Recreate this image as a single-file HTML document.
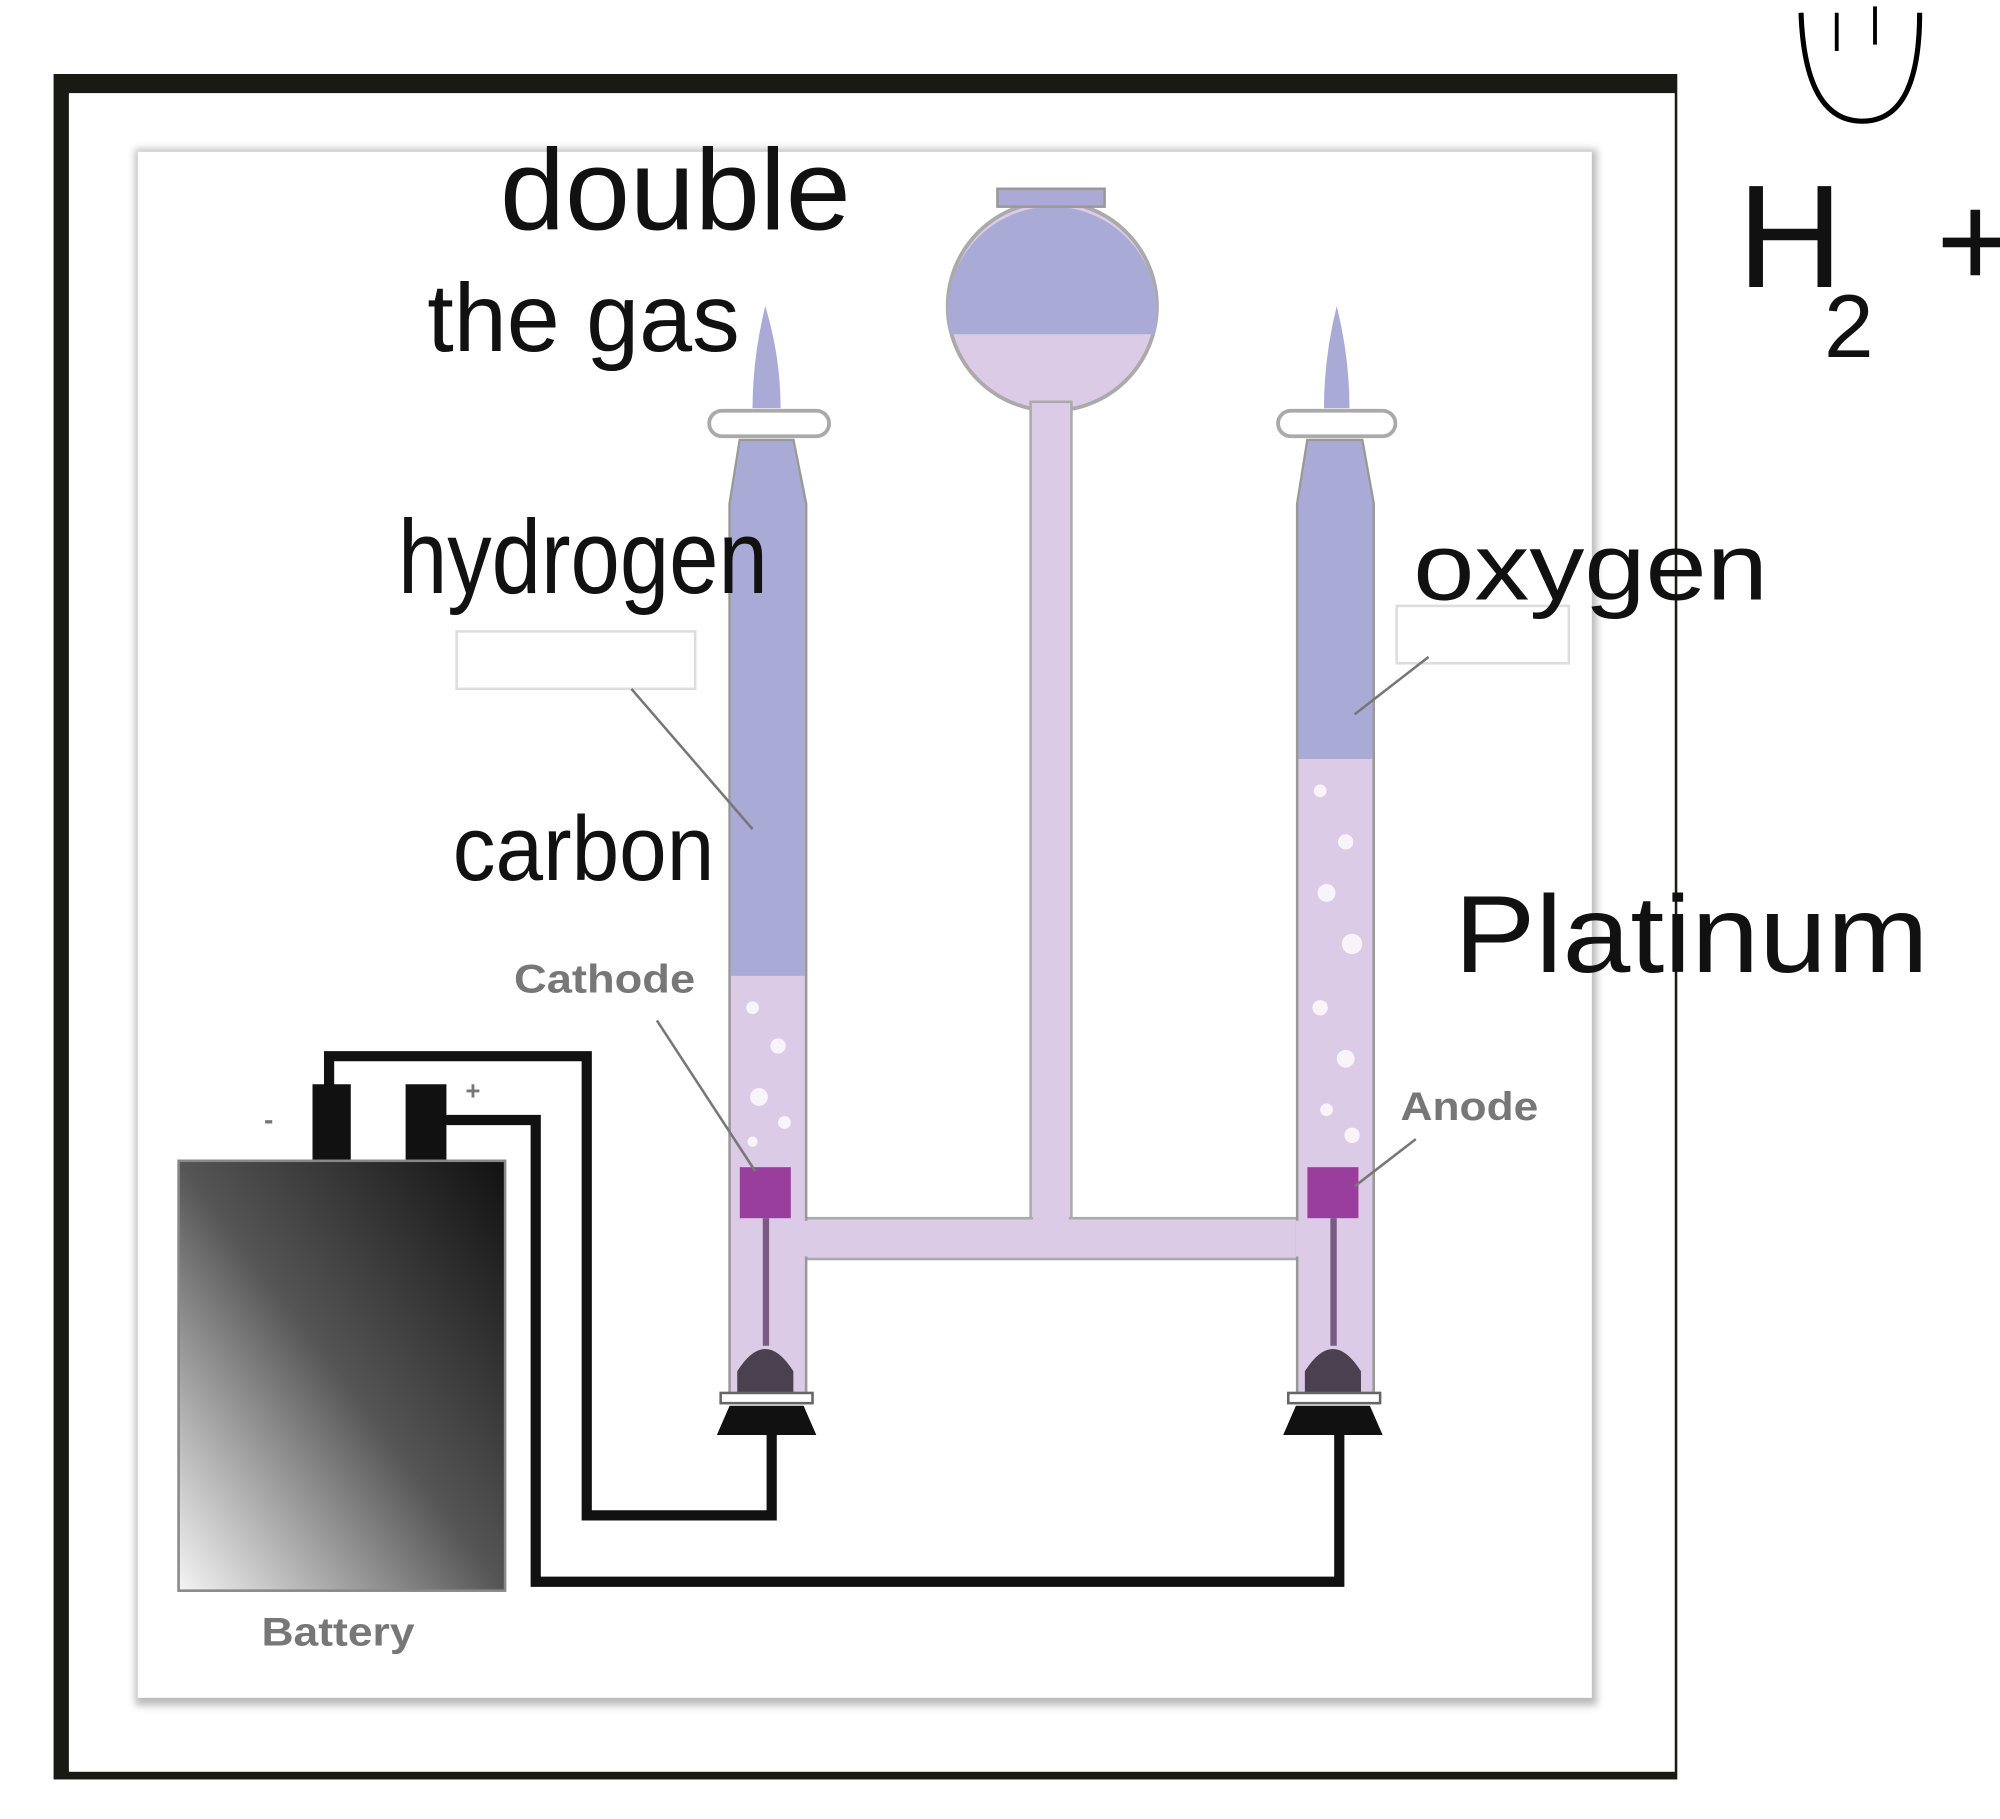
<!DOCTYPE html>
<html><head><meta charset="utf-8"><style>
html,body{margin:0;padding:0;background:#fff;}
svg{display:block;}
.hw{font-family:"Liberation Sans",sans-serif;fill:#111;font-weight:normal;}
.lb{font-family:"Liberation Sans",sans-serif;fill:#777;font-weight:bold;}
</style></head><body>
<svg width="2000" height="1819" viewBox="0 0 1568 1426" preserveAspectRatio="none" xmlns="http://www.w3.org/2000/svg">
<defs>
<linearGradient id="bat" x1="1" y1="0" x2="0" y2="1">
<stop offset="0" stop-color="#111"/><stop offset="0.5" stop-color="#555"/><stop offset="1" stop-color="#f4f4f4"/>
</linearGradient>
<filter id="sh"><feGaussianBlur stdDeviation="3"/></filter>
</defs>
<rect width="1568" height="1426" fill="#fff"/>
<rect x="42" y="58" width="1273" height="1337" fill="#1a1a14"/>
<rect x="54" y="73" width="1259" height="1316" fill="#fff"/>
<rect x="106" y="117" width="1146" height="1220" fill="#bbb" filter="url(#sh)"/>
<rect x="108" y="119" width="1140" height="1212" fill="#fff"/>
<rect x="358" y="495" width="187" height="45" fill="#fff" stroke="#ddd" stroke-width="2"/>
<rect x="1095" y="475" width="135" height="45" fill="#fff" stroke="#ddd" stroke-width="2"/>
<!-- bulb -->
<circle cx="825" cy="240" r="82" fill="#dccbe6" stroke="#aaa" stroke-width="3"/>
<path d="M745 262 A82 82 0 1 1 905 262 Z" fill="#a9abd6"/>
<rect x="782" y="148" width="84" height="14" fill="#a9abd6" stroke="#999" stroke-width="2"/>
<!-- stem -->
<rect x="808" y="315" width="32" height="655" fill="#dccbe6" stroke="#aaa" stroke-width="2"/>
<rect x="620" y="955" width="410" height="32" fill="#dccbe6" stroke="#aaa" stroke-width="2"/>
<rect x="810" y="950" width="28" height="10" fill="#dccbe6"/>
<!-- left tube -->
<path d="M600 240 Q590 280 590 320 L612 320 Q612 280 600 240Z" fill="#a9abd6"/>
<path d="M572 395 L580 345 L622 345 L632 395 L632 1095 L572 1095Z" fill="#dccbe6" stroke="#999" stroke-width="2"/>
<path d="M573 395 L581 346 L621 346 L631 395 L631 765 L573 765Z" fill="#a9abd6"/>
<rect x="556" y="322" width="94" height="20" rx="10" fill="#fff" stroke="#aaa" stroke-width="3"/>
<rect x="620" y="957" width="14" height="28" fill="#dccbe6"/>
<g fill="#fff" opacity="0.8"><circle cx="590" cy="790" r="5"/><circle cx="610" cy="820" r="6"/><circle cx="595" cy="860" r="7"/><circle cx="615" cy="880" r="5"/><circle cx="590" cy="895" r="4"/></g>
<rect x="580" y="915" width="40" height="40" fill="#993e9d"/>
<rect x="598" y="955" width="5" height="100" fill="#7a5a80"/>
<path d="M578 1095 L578 1075 Q600 1040 622 1075 L622 1095Z" fill="#4a4050"/>
<rect x="565" y="1092" width="72" height="8" fill="#fff" stroke="#666" stroke-width="2"/>
<path d="M572 1102 L630 1102 L640 1125 L562 1125Z" fill="#111"/>
<!-- right tube -->
<path d="M1048 240 Q1038 280 1038 320 L1058 320 Q1058 280 1048 240Z" fill="#a9abd6"/>
<path d="M1017 395 L1025 345 L1068 345 L1077 395 L1077 1095 L1017 1095Z" fill="#dccbe6" stroke="#999" stroke-width="2"/>
<path d="M1018 395 L1026 346 L1067 346 L1076 395 L1076 595 L1018 595Z" fill="#a9abd6"/>
<rect x="1002" y="322" width="92" height="20" rx="10" fill="#fff" stroke="#aaa" stroke-width="3"/>
<rect x="1016" y="957" width="14" height="28" fill="#dccbe6"/>
<g fill="#fff" opacity="0.8"><circle cx="1035" cy="620" r="5"/><circle cx="1055" cy="660" r="6"/><circle cx="1040" cy="700" r="7"/><circle cx="1060" cy="740" r="8"/><circle cx="1035" cy="790" r="6"/><circle cx="1055" cy="830" r="7"/><circle cx="1040" cy="870" r="5"/><circle cx="1060" cy="890" r="6"/></g>
<rect x="1025" y="915" width="40" height="40" fill="#993e9d"/>
<rect x="1043" y="955" width="5" height="100" fill="#7a5a80"/>
<path d="M1023 1095 L1023 1075 Q1045 1040 1067 1075 L1067 1095Z" fill="#4a4050"/>
<rect x="1010" y="1092" width="72" height="8" fill="#fff" stroke="#666" stroke-width="2"/>
<path d="M1016 1102 L1074 1102 L1084 1125 L1006 1125Z" fill="#111"/>
<g stroke="#777" stroke-width="2" fill="none">
<line x1="495" y1="540" x2="590" y2="650"/>
<line x1="1120" y1="515" x2="1062" y2="560"/>
<line x1="515" y1="800" x2="592" y2="918"/>
<line x1="1110" y1="893" x2="1062" y2="930"/>
</g>
<g stroke="#111" stroke-width="8" fill="none">
<polyline points="258,855 258,828 460,828 460,1188 605,1188 605,1125"/>
<polyline points="345,878 420,878 420,1240 1050,1240 1050,1125"/>
</g>
<rect x="245" y="850" width="30" height="62" fill="#111"/>
<rect x="318" y="850" width="32" height="62" fill="#111"/>
<rect x="140" y="910" width="256" height="337" fill="url(#bat)" stroke="#888" stroke-width="2"/>
<text x="207" y="885" class="lb" font-size="22">-</text>
<text x="365" y="862" class="lb" font-size="20">+</text>
<text x="403" y="778" class="lb" font-size="31" textLength="142" lengthAdjust="spacingAndGlyphs">Cathode</text>
<text x="1098" y="878" class="lb" font-size="31" textLength="108" lengthAdjust="spacingAndGlyphs">Anode</text>
<text x="205" y="1290" class="lb" font-size="31" textLength="120" lengthAdjust="spacingAndGlyphs">Battery</text>
<text x="392" y="180" class="hw" font-size="90" textLength="275" lengthAdjust="spacingAndGlyphs">double</text>
<text x="335" y="275" class="hw" font-size="76" textLength="245" lengthAdjust="spacingAndGlyphs">the gas</text>
<text x="312" y="465" class="hw" font-size="82" textLength="290" lengthAdjust="spacingAndGlyphs">hydrogen</text>
<text x="355" y="690" class="hw" font-size="72" textLength="205" lengthAdjust="spacingAndGlyphs">carbon</text>
<text x="1108" y="470" class="hw" font-size="74" textLength="278" lengthAdjust="spacingAndGlyphs">oxygen</text>
<text x="1140" y="762" class="hw" font-size="86" textLength="372" lengthAdjust="spacingAndGlyphs">Platinum</text>
<text x="1362" y="225" class="hw" font-size="115">H</text>
<text x="1430" y="280" class="hw" font-size="70">2</text>
<text x="1518" y="225" class="hw" font-size="105">+</text>
<path d="M1412 10 Q1415 95 1460 95 Q1505 95 1505 10" stroke="#000" stroke-width="4" fill="none"/>
<path d="M1440 10 L1440 40 M1470 5 L1470 35" stroke="#000" stroke-width="3" fill="none"/>
</svg>
</body></html>
